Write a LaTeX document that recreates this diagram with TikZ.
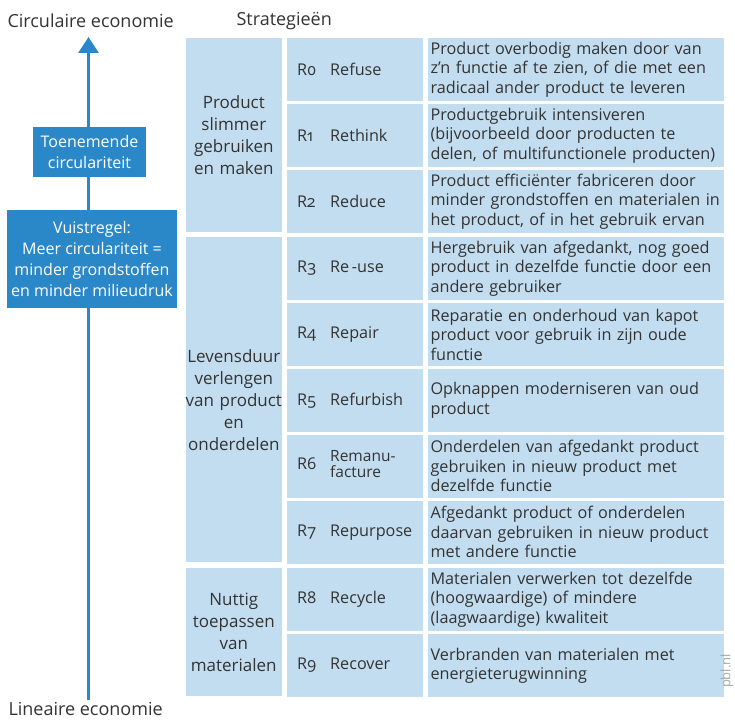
\documentclass[tikz,border=0pt]{standalone}
\usepackage{fontspec}
\setmainfont{Open Sans}
\newfontfamily\oldnum[Numbers=OldStyle]{Open Sans}
\usetikzlibrary{positioning,arrows.meta}
\definecolor{pblBlue}{HTML}{2B88C8}
\definecolor{cellBlue}{HTML}{C3DDF0}
\definecolor{txtGrey}{HTML}{333333}

% strategy label: number and name
\newcommand{\strat}[2]{\makebox[33pt][l]{\oldnum #1}#2}

\begin{document}
\begin{tikzpicture}[x=1pt,y=-1pt,node distance=3pt,font=\fontsize{16.2}{19.5}\selectfont,text=txtGrey]
  \tikzstyle{cell}=[fill=cellBlue,inner sep=0pt,minimum height=62.5pt]
  \tikzstyle{group}=[cell,align=center,text width=106pt,inner xsep=-5pt,minimum width=96pt,font=\fontsize{17}{22}\selectfont]
  \tikzstyle{strat}=[cell,align=left,text width=116pt,minimum width=136pt,inner xsep=10pt]
  \tikzstyle{desc}=[cell,align=left,text width=290pt,minimum width=293pt,inner xsep=3pt]
  \tikzstyle{bluebox}=[fill=pblBlue,text=white,align=center,inner sep=0pt,font=\fontsize{16}{21}\selectfont]
  \tikzstyle{head}=[anchor=west,inner ysep=1pt,font=\fontsize{18}{22}\selectfont]
  \useasboundingbox (0,0) rectangle (735,719);

  % axis
  \node[head] (circ) at (4,21) {Circulaire economie};
  \node[head] (lin) at (5,708.5) {Lineaire economie};
  \node[head] (title) at (233,21) {Strategieën};
  \coordinate (top) at (88.5,37);
  \coordinate (bot) at (88.5,700);
  \draw[pblBlue,line width=3pt,-{Triangle[width=20pt,length=16pt]}] (bot) -- (top);
  \node[bluebox,minimum width=113pt,minimum height=50pt] (rise) at (89.5,152) {Toenemende\\circulariteit};
  \node[bluebox,minimum width=170pt,minimum height=97pt] (rule) at (92,259) {Vuistregel:\\Meer circulariteit =\\minder grondstoffen\\en minder milieudruk};

  % strategies
  \node[strat,anchor=north west] (r0) at (287,38) {\strat{R0}{Refuse}};
  \node[strat,below=of r0] (r1) {\strat{R1}{Rethink}};
  \node[strat,below=of r1] (r2) {\strat{R2}{Reduce}};
  \node[strat,below=4.5pt of r2] (r3) {\strat{R3}{Re\,-use}};
  \node[strat,below=of r3] (r4) {\strat{R4}{Repair}};
  \node[strat,below=of r4] (r5) {\strat{R5}{Refurbish}};
  \node[strat,below=of r5] (r6) {\makebox[33pt][l]{\oldnum R6}{\fontsize{15.5}{15}\selectfont\begin{tabular}[c]{@{}l@{}}Remanu-\\facture\end{tabular}}};
  \node[strat,below=of r6] (r7) {\strat{R7}{Repurpose}};
  \node[strat,below=4.5pt of r7] (r8) {\strat{R8}{Recycle}};
  \node[strat,below=of r8] (r9) {\strat{R9}{Recover}};

  % groups
  \node[group,left=5pt of r0.north west,anchor=north east,minimum height=193.5pt] (g1) {Product\\slimmer\\gebruiken\\en maken};
  \node[group,left=5pt of r3.north west,anchor=north east,minimum height=324.5pt] (g2) {Levensduur\\verlengen\\van product\\en\\onderdelen};
  \node[group,left=5pt of r8.north west,anchor=north east,minimum height=128pt] (g3) {Nuttig\\toepassen\\van\\materialen};

  % descriptions
  \node[desc,right=4pt of r0] (d0) {Product overbodig maken door van\\z’n functie af te zien, of die met een\\radicaal ander product te leveren};
  \node[desc,right=4pt of r1] (d1) {Productgebruik intensiveren\\(bijvoorbeeld door producten te\\delen, of multifunctionele producten)};
  \node[desc,right=4pt of r2] (d2) {Product efficiënter fabriceren door\\minder grondstoffen en materialen in\\het product, of in het gebruik ervan};
  \node[desc,right=4pt of r3] (d3) {Hergebruik van afgedankt, nog goed\\product in dezelfde functie door een\\andere gebruiker};
  \node[desc,right=4pt of r4] (d4) {Reparatie en onderhoud van kapot\\product voor gebruik in zijn oude\\functie};
  \node[desc,right=4pt of r5] (d5) {Opknappen moderniseren van oud\\product};
  \node[desc,right=4pt of r6] (d6) {Onderdelen van afgedankt product\\gebruiken in nieuw product met\\dezelfde functie};
  \node[desc,right=4pt of r7] (d7) {Afgedankt product of onderdelen\\daarvan gebruiken in nieuw product\\met andere functie};
  \node[desc,right=4pt of r8] (d8) {Materialen verwerken tot dezelfde\\(hoogwaardige) of mindere\\(laagwaardige) kwaliteit};
  \node[desc,right=4pt of r9] (d9) {Verbranden van materialen met\\energieterugwinning};

  \node[rotate=90,text=black!35,font=\fontsize{13}{15}\selectfont] (src) at (727,671) {pbl.nl};
\end{tikzpicture}
\end{document}
